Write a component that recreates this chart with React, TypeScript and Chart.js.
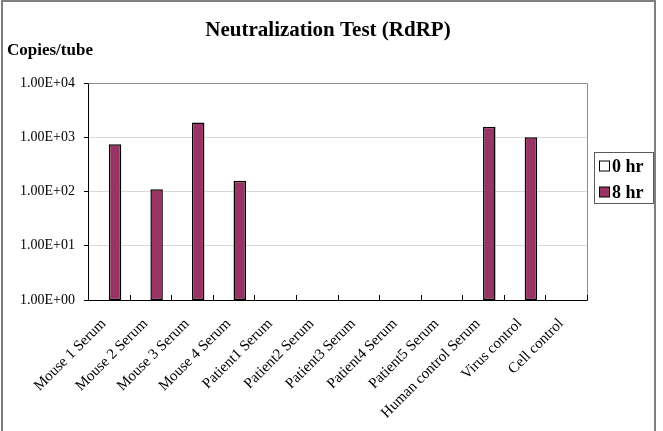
import { useEffect, useRef } from "react";
import { Chart, registerables } from "chart.js";

Chart.register(...registerables);

// Sample groups along the category axis
const categories = [
  "Mouse 1 Serum",
  "Mouse 2 Serum",
  "Mouse 3 Serum",
  "Mouse 4 Serum",
  "Patient1 Serum",
  "Patient2 Serum",
  "Patient3 Serum",
  "Patient4 Serum",
  "Patient5 Serum",
  "Human control Serum",
  "Virus control",
  "Cell control",
];

// RdRP copies per tube at each time point (null = nothing detected)
const hr0Values: (number | null)[] = [null, null, null, null, null, null, null, null, null, null, null, null];
const hr8Values: (number | null)[] = [740, 110, 1880, 158, null, null, null, null, null, 1560, 1000, null];

const seriesLabels = ["0 hr", "8 hr"];
const yTickValues = [1, 10, 100, 1000, 10000];

const titleText = "Neutralization Test (RdRP)";
const yAxisTitle = "Copies/tube";

const SERIF = '"Liberation Serif", "Times New Roman", Times, serif';

function sci(v: number): string {
  const e = Math.round(Math.log10(v));
  const m = v / Math.pow(10, e);
  return m.toFixed(2) + "E" + (e < 0 ? "-" : "+") + String(Math.abs(e)).padStart(2, "0");
}

const decorPlugin = {
  id: "decor",
  beforeDraw(chart: any) {
    const { ctx, width, height } = chart;
    ctx.save();
    ctx.fillStyle = "#ffffff";
    ctx.fillRect(0, 0, width, height);
    // outer frame (open at the bottom edge of the page)
    ctx.strokeStyle = "#7f7f7f";
    ctx.lineWidth = 2;
    ctx.beginPath();
    ctx.moveTo(2, height + 5);
    ctx.lineTo(2, 1);
    ctx.lineTo(655, 1);
    ctx.lineTo(655, height + 5);
    ctx.stroke();

    // titles
    ctx.fillStyle = "#000";
    ctx.textBaseline = "alphabetic";
    ctx.font = `bold 21px ${SERIF}`;
    ctx.textAlign = "center";
    ctx.fillText(titleText, 328, 36);
    ctx.font = `bold 17px ${SERIF}`;
    ctx.textAlign = "left";
    ctx.fillText(yAxisTitle, 7, 55);
    ctx.restore();
  },
  beforeDatasetsDraw(chart: any) {
    const { ctx, chartArea: a } = chart;
    ctx.save();
    ctx.strokeStyle = "#8c8c8c";
    ctx.lineWidth = 1;
    ctx.beginPath();
    ctx.moveTo(Math.round(a.left) + 0.5, Math.round(a.top) + 0.5);
    ctx.lineTo(Math.round(a.right) + 0.5, Math.round(a.top) + 0.5);
    ctx.lineTo(Math.round(a.right) + 0.5, Math.round(a.bottom) + 0.5);
    ctx.stroke();
    ctx.restore();
  },
  afterDraw(chart: any) {
    const { ctx, chartArea: a } = chart;
    const xs = chart.scales.x;
    ctx.save();
    // inside tick marks at category boundaries
    ctx.strokeStyle = "#000";
    ctx.lineWidth = 1;
    const n = xs.ticks.length;
    const step = n > 1 ? xs.getPixelForTick(1) - xs.getPixelForTick(0) : 0;
    ctx.beginPath();
    for (let i = 0; i < n; i++) {
      const bx = Math.round(xs.getPixelForTick(i) + step / 2) + 0.5;
      ctx.moveTo(bx, a.bottom);
      ctx.lineTo(bx, a.bottom - 5);
    }
    ctx.stroke();

    // legend
    const lx = 594.5, ly = 152.5, lw = 59, lh = 51;
    ctx.strokeStyle = "#5a5a5a";
    ctx.strokeRect(lx, ly, lw, lh);
    ctx.font = `bold 18px ${SERIF}`;
    ctx.textAlign = "left";
    ctx.textBaseline = "middle";
    chart.data.datasets.forEach((ds: any, i: number) => {
      const cy = 166 + i * 26;
      ctx.fillStyle = ds.backgroundColor;
      ctx.fillRect(599.5, cy - 5, 10, 10);
      ctx.strokeStyle = "#000";
      ctx.strokeRect(599.5, cy - 5, 10, 10);
      ctx.fillStyle = "#000";
      ctx.fillText(ds.label, 612, cy + 1);
    });
    ctx.restore();
  },
};

export default function App() {
  const canvasRef = useRef<HTMLCanvasElement | null>(null);

  useEffect(() => {
    if (!canvasRef.current) return;
    const chart = new Chart(canvasRef.current, {
      type: "bar",
      data: {
        labels: categories,
        datasets: [
          {
            label: seriesLabels[0],
            data: hr0Values,
            backgroundColor: "#ffffff",
            borderColor: "#000000",
            borderWidth: 1.5,
            borderSkipped: false,
          },
          {
            label: seriesLabels[1],
            data: hr8Values,
            backgroundColor: "#993366",
            borderColor: "#000000",
            borderWidth: 1.5,
            borderSkipped: false,
          },
        ],
      },
      options: {
        responsive: false,
        animation: false,
        layout: { padding: { top: 83, right: 76, left: 0, bottom: 0 } },
        datasets: { bar: { categoryPercentage: 0.6, barPercentage: 1 } },
        plugins: {
          legend: { display: false },
          title: { display: false },
          tooltip: { enabled: false },
        },
        scales: {
          x: {
            grid: { display: false, drawTicks: false },
            border: { display: true, color: "#000000", width: 1 },
            ticks: {
              color: "#000",
              font: { family: SERIF, size: 15 },
              maxRotation: 45,
              minRotation: 45,
              autoSkip: false,
              padding: 15,
              labelOffset: -5,
            },
            afterFit: (s: any) => {
              s.height = 131;
            },
          },
          y: {
            type: "logarithmic",
            min: 1,
            max: 10000,
            grid: { color: "#d9d9d9", tickColor: "#000", tickLength: 4, drawTicks: true },
            border: { display: true, color: "#000000", width: 1 },
            ticks: {
              color: "#000",
              font: { family: SERIF, size: 14 },
              padding: 9,
              callback: (v: any) => sci(Number(v)),
            },
            afterBuildTicks: (s: any) => {
              s.ticks = yTickValues.map((v) => ({ value: v }));
            },
            afterFit: (s: any) => {
              s.width = 88;
            },
          },
        },
      },
      plugins: [decorPlugin],
    } as any);
    return () => chart.destroy();
  }, []);

  return (
    <div style={{ position: "fixed", left: 0, top: 0, width: 663, height: 431, background: "#fff" }}>
      <canvas ref={canvasRef} width={663} height={431} />
    </div>
  );
}
